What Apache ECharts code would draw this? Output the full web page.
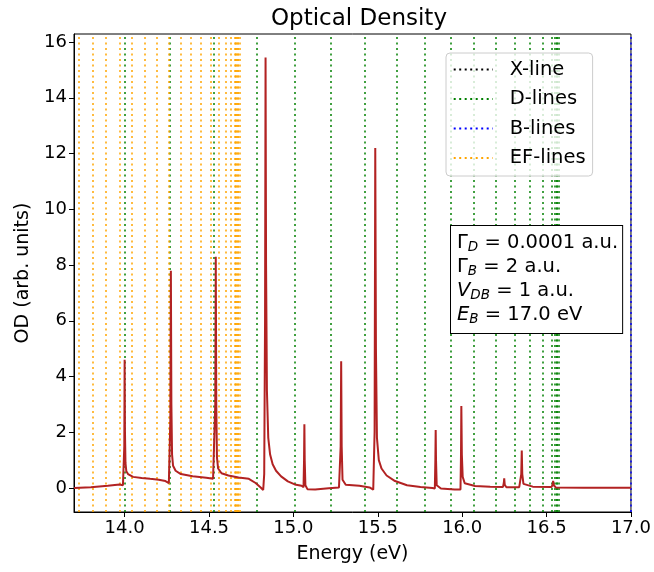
<!DOCTYPE html>
<html>
<head>
<meta charset="utf-8">
<script src="https://cdn.jsdelivr.net/npm/echarts@6/dist/echarts.min.js"></script>
<style>html,body{margin:0;padding:0;background:#fff}#c{width:654px;height:572px}</style>
</head>
<body>
<div id="c"></div>
<script>
// ---- data ----
const energy = [13.70,13.80,13.90,13.97,13.99,13.996,13.998,14.000,14.002,14.005,14.010,14.02,14.050,14.101,14.151,14.202,14.242,14.262,14.268,14.271,14.274,14.277,14.281,14.287,14.302,14.333,14.403,14.484,14.524,14.534,14.537,14.540,14.543,14.547,14.554,14.574,14.615,14.675,14.736,14.776,14.806,14.821,14.827,14.832,14.835,14.838,14.843,14.851,14.862,14.877,14.897,14.927,14.967,15.008,15.048,15.060,15.063,15.065,15.067,15.071,15.083,15.129,15.209,15.270,15.280,15.283,15.286,15.291,15.310,15.391,15.451,15.473,15.481,15.485,15.489,15.495,15.506,15.522,15.552,15.602,15.673,15.753,15.824,15.838,15.841,15.843,15.845,15.849,15.874,15.955,15.990,15.993,15.995,15.998,16.003,16.015,16.076,16.166,16.242,16.247,16.249,16.252,16.262,16.338,16.350,16.353,16.356,16.363,16.418,16.529,16.536,16.539,16.543,16.554,16.72,17.00];
const od = [0.00,0.03,0.08,0.13,0.10,0.06,1.5,4.6,2.0,0.9,0.6,0.5,0.40,0.36,0.33,0.30,0.25,0.18,0.15,2.5,7.8,3.0,1.2,0.8,0.62,0.50,0.42,0.37,0.33,0.30,3.0,8.3,3.0,1.1,0.7,0.53,0.45,0.38,0.33,0.18,0.02,-0.07,0.5,6.0,15.45,8.0,3.5,1.8,1.2,0.85,0.62,0.42,0.24,0.13,0.08,0.03,1.0,2.29,1.0,0.1,-0.04,-0.05,-0.01,0.02,1.5,4.55,1.5,0.3,0.12,0.08,0.02,-0.06,2.0,12.2,5.0,1.8,1.0,0.7,0.45,0.25,0.10,0.04,0.0,-0.02,1.0,2.08,1.0,0.1,-0.02,-0.05,-0.05,1.2,2.94,1.2,0.4,0.17,0.07,0.05,0.04,0.2,0.35,0.12,0.03,0.03,0.5,1.35,0.5,0.15,0.05,0.04,0.12,0.26,0.1,0.02,0.01,0.01];
const xLines = [];
const dLines = [13.996,14.267,14.534,14.778,15.012,15.225,15.420,15.605,15.778,15.931,16.073,16.200,16.312,16.401,16.475,16.530,16.547,16.557,16.564,16.570];
const bLines = [17.0];
const efLines = [13.731,13.814,13.892,13.969,14.045,14.118,14.190,14.255,14.326,14.393,14.452,14.508,14.562,14.600,14.631,14.646,14.656,14.663,14.669,14.674,14.678];
const xTicks = [14.0,14.5,15.0,15.5,16.0,16.5,17.0];
const yTicks = [0,2,4,6,8,10,12,14,16];
const seriesNames = ['X-line','D-lines','B-lines','EF-lines'];

const FONT = 'DejaVu Sans';
const chart = echarts.init(document.getElementById('c'), null, {renderer:'canvas'});

function vlineSeries(name, xs, color) {
  const ls = {color: color, type: [2, 3.5], width: 1.5};
  return {
    name: name, type: 'line', data: [], symbol: 'none', z: 2,
    lineStyle: ls, itemStyle: {color: color},
    markLine: xs.length ? {
      silent: true, symbol: ['none','none'], animation: false, z: 2,
      label: {show: false}, lineStyle: ls, emphasis: {disabled: true},
      data: xs.map(x => ({xAxis: x}))
    } : undefined
  };
}

chart.setOption({
  animation: false,
  backgroundColor: '#fff',
  title: {
    text: 'Optical Density', left: 354, top: 3, textAlign: 'center',
    textStyle: {fontFamily: FONT, fontSize: 23, fontWeight: 'normal', color: '#000'}
  },
  grid: {left: 74, right: 20, top: 34, bottom: 60, show: true, borderColor: '#000', borderWidth: 1, backgroundColor: 'transparent'},
  legend: {
    data: seriesNames, orient: 'vertical', left: 446, top: 53, z: 20,
    itemWidth: 39, itemHeight: 14, itemGap: 9.5,
    padding: [6.5, 7, 8, 6.7],
    itemStyle: {opacity: 0},
    backgroundColor: 'rgba(255,255,255,0.8)', borderColor: '#cccccc', borderWidth: 1, borderRadius: 4,
    textStyle: {fontFamily: FONT, fontSize: 19.5, color: '#000', padding: [0,0,0,12]},
    selectedMode: false
  },
  xAxis: {
    type: 'value', min: 13.7, max: 17.0,
    name: 'Energy (eV)', nameLocation: 'middle', nameGap: 33,
    nameTextStyle: {fontFamily: FONT, fontSize: 19, color: '#000'},
    axisLine: {show: true, onZero: false, lineStyle: {color: '#000', width: 1}},
    axisTick: {show: true, inside: false, length: 5, customValues: xTicks, lineStyle: {color: '#000'}},
    axisLabel: {customValues: xTicks, formatter: v => v.toFixed(1), fontFamily: FONT, fontSize: 18, color: '#000', margin: 7},
    splitLine: {show: false}
  },
  yAxis: {
    type: 'value', min: -0.86, max: 16.29,
    name: 'OD (arb. units)', nameLocation: 'middle', nameGap: 41,
    nameTextStyle: {fontFamily: FONT, fontSize: 19, color: '#000'},
    axisLine: {show: true, onZero: false, lineStyle: {color: '#000', width: 1}},
    axisTick: {show: true, inside: false, length: 5, customValues: yTicks, lineStyle: {color: '#000'}},
    axisLabel: {customValues: yTicks, fontFamily: FONT, fontSize: 18, color: '#000', margin: 7},
    splitLine: {show: false}
  },
  series: [
    vlineSeries('X-line', xLines, '#000000'),
    vlineSeries('D-lines', dLines, '#008000'),
    vlineSeries('B-lines', bLines, '#0000ff'),
    vlineSeries('EF-lines', efLines, '#ffa500'),
    {
      name: 'OD', type: 'line', symbol: 'none', z: 3,
      data: energy.map((e, i) => [e, od[i]]),
      lineStyle: {color: '#b22222', width: 2}, itemStyle: {color: '#b22222'}
    }
  ],
  graphic: [{
    type: 'text', left: 450, top: 225, z: 100,
    style: {
      text: '{g|Γ}{s|D}{t| = 0.0001 a.u.}\n{g|Γ}{s|B}{t| = 2 a.u.}\n{i|V}{s|DB}{t| = 1 a.u.}\n{i|E}{s|B}{t| = 17.0 eV}',
      rich: {
        g: {fontFamily: FONT, fontSize: 19.5, lineHeight: 24, color: '#000', verticalAlign: 'middle'},
        i: {fontFamily: FONT, fontSize: 19.5, fontStyle: 'italic', lineHeight: 24, color: '#000', verticalAlign: 'middle'},
        t: {fontFamily: FONT, fontSize: 19.5, lineHeight: 24, color: '#000', verticalAlign: 'middle'},
        s: {fontFamily: FONT, fontSize: 13.5, fontStyle: 'italic', lineHeight: 24, color: '#000', verticalAlign: 'bottom', padding: [0,0,1,0]}
      },
      backgroundColor: '#fff', borderColor: '#000', borderWidth: 1,
      padding: [5, 4, 6, 6]
    }
  }]
});
</script>
</body>
</html>
